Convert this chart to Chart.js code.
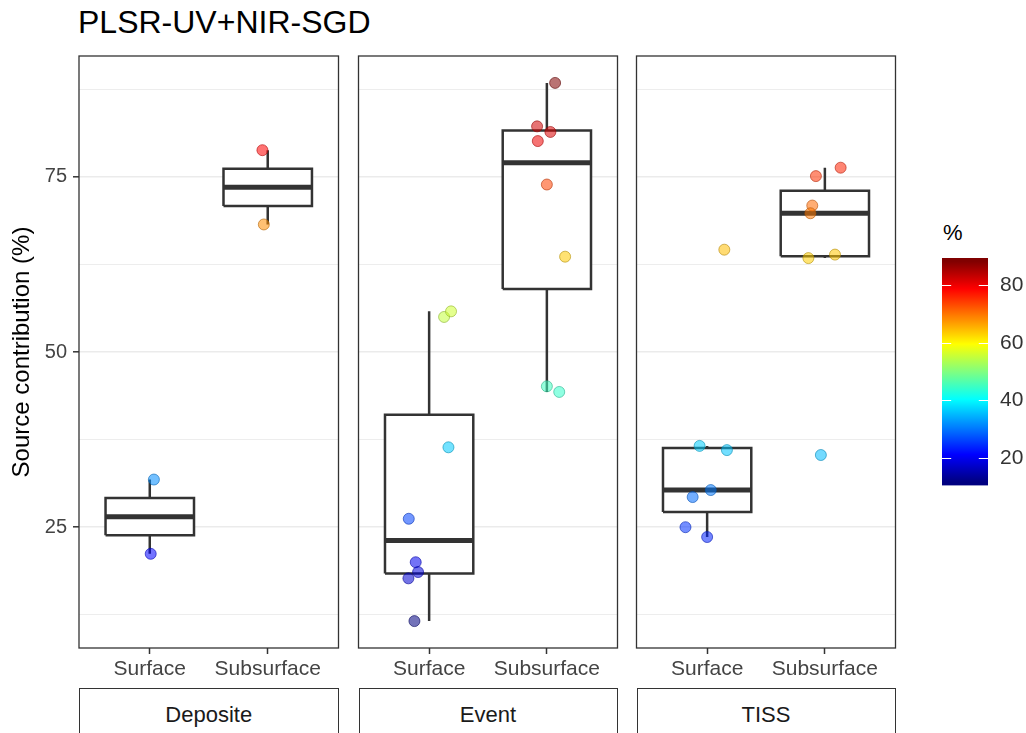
<!DOCTYPE html>
<html>
<head>
<meta charset="utf-8">
<script src="https://cdn.jsdelivr.net/npm/chart.js@4.4.1/dist/chart.umd.min.js"></script>
<style>
  html, body { margin: 0; padding: 0; background: #fff; }
  #fig { position: relative; width: 1026px; height: 733px; overflow: hidden; background: #fff;
         font-family: "Liberation Sans", Arial, Helvetica, sans-serif; }
  #fig canvas { position: absolute; }
  .title { position: absolute; left: 78px; top: 6px; font-size: 32px; line-height: 32px; color: #000; white-space: nowrap; }
  .strip { position: absolute; top: 688px; height: 60px; border: 1.5px solid #333; box-sizing: border-box;
           background: #fff; text-align: center; font-size: 22px; line-height: 24px; padding-top: 14px; color: #1a1a1a; }
  .legtitle { position: absolute; left: 943px; top: 222px; font-size: 22px; line-height: 22px; color: #000; }
</style>
</head>
<body>
<div id="fig">
  <div class="title">PLSR-UV+NIR-SGD</div>
  <div class="legtitle">%</div>
</div>
<script>
const FONT = '"Liberation Sans", Arial, Helvetica, sans-serif';

const facets = ['Deposite', 'Event', 'TISS'];
const sources = ['Surface', 'Subsurface'];

// source contribution (%) of each sample
const depositeSurface = [31.8, 21.2];
const depositeSubsurface = [78.8, 68.2];
const eventSurface = [11.6, 26.2, 20.0, 18.6, 17.7, 36.4, 55.0, 55.8];
const eventSubsurface = [88.4, 82.2, 81.4, 80.1, 73.9, 63.6, 45.1, 44.3];
const tissSurface = [36.6, 36.0, 30.3, 29.3, 25.0, 23.6, 64.6];
const tissSubsurface = [76.3, 75.1, 70.9, 69.8, 63.4, 63.9, 35.3];

// horizontal jitter of each sample (category units)
const depositeSurfaceJitter = [0.035, 0.008];
const depositeSubsurfaceJitter = [-0.045, -0.033];
const eventSurfaceJitter = [-0.125, -0.173, -0.114, -0.094, -0.176, 0.164, 0.127, 0.186];
const eventSubsurfaceJitter = [0.07, -0.083, 0.03, -0.077, 0.0, 0.155, 0.0, 0.105];
const tissSurfaceJitter = [-0.064, 0.168, 0.031, -0.123, -0.184, 0.0, 0.146];
const tissSubsurfaceJitter = [0.134, -0.076, -0.107, -0.123, -0.14, 0.086, -0.034];

const yMajorTicks = [25, 50, 75];
const yMinorTicks = [12.5, 37.5, 62.5, 87.5];
const legendTicks = [20, 40, 60, 80];

const values = [
  [depositeSurface, depositeSubsurface],
  [eventSurface, eventSubsurface],
  [tissSurface, tissSubsurface]
];
const jitters = [
  [depositeSurfaceJitter, depositeSubsurfaceJitter],
  [eventSurfaceJitter, eventSubsurfaceJitter],
  [tissSurfaceJitter, tissSubsurfaceJitter]
];

const allValues = values.flat(2);
const vMin = Math.min(...allValues);
const vMax = Math.max(...allValues);
const yMin = vMin - 0.05 * (vMax - vMin);
const yMax = vMax + 0.05 * (vMax - vMin);

function jet(t) {
  t = Math.min(1, Math.max(0, t));
  const c = k => Math.round(255 * Math.min(1, Math.max(0, 1.5 - Math.abs(4 * t - k))));
  return [c(3), c(2), c(1)];
}
function valueColor(v, a) {
  const [r, g, b] = jet((v - vMin) / (vMax - vMin));
  return `rgba(${r},${g},${b},${a})`;
}
function edgeColor(v) {
  const [r, g, b] = jet((v - vMin) / (vMax - vMin));
  return `rgba(${Math.round(r * 0.7)},${Math.round(g * 0.7)},${Math.round(b * 0.7)},0.6)`;
}

// type 7 quantile, as R does it
function quantile(arr, p) {
  const s = [...arr].sort((a, b) => a - b);
  const h = (s.length - 1) * p;
  const lo = Math.floor(h);
  return s[lo] + (h - lo) * ((s[lo + 1] ?? s[lo]) - s[lo]);
}
function boxStats(arr) {
  const q1 = quantile(arr, 0.25), med = quantile(arr, 0.5), q3 = quantile(arr, 0.75);
  const iqr = q3 - q1;
  const inside = arr.filter(v => v >= q1 - 1.5 * iqr && v <= q3 + 1.5 * iqr);
  return { q1, med, q3, lo: Math.min(...inside), hi: Math.max(...inside) };
}

const INK = '#333333';
const HALF_BOX = 0.375;

function panelDatasets(f) {
  const ds = [];
  sources.forEach((src, j) => {
    const x = j + 1;
    const vals = values[f][j];
    const st = boxStats(vals);
    const line = (data, w, order, extra) => Object.assign({
      type: 'line', data, borderColor: INK, borderWidth: w, pointRadius: 0,
      tension: 0, fill: false, order, borderCapStyle: 'butt', borderJoinStyle: 'miter'
    }, extra || {});
    ds.push(line([{ x, y: st.q3 }, { x, y: st.hi }], 2.5, 4));
    ds.push(line([{ x, y: st.q1 }, { x, y: st.lo }], 2.5, 4));
    ds.push(line([
      { x: x - HALF_BOX, y: st.q1 }, { x: x + HALF_BOX, y: st.q1 },
      { x: x + HALF_BOX, y: st.q3 }, { x: x - HALF_BOX, y: st.q3 },
      { x: x - HALF_BOX, y: st.q1 }
    ], 2.5, 3, { fill: 'shape', backgroundColor: '#ffffff' }));
    ds.push(line([{ x: x - HALF_BOX, y: st.med }, { x: x + HALF_BOX, y: st.med }], 5, 2));
    ds.push({
      type: 'scatter',
      data: vals.map((v, k) => ({ x: x + jitters[f][j][k], y: v })),
      pointRadius: 5.5,
      pointBackgroundColor: vals.map(v => valueColor(v, 0.55)),
      pointBorderColor: vals.map(v => edgeColor(v)),
      pointBorderWidth: 1,
      order: 0
    });
  });
  return ds;
}

const panelBorder = {
  id: 'panelBorder',
  afterDatasetsDraw(chart) {
    const a = chart.chartArea, ctx = chart.ctx;
    ctx.save();
    ctx.strokeStyle = INK;
    ctx.lineWidth = 1.3;
    ctx.strokeRect(a.left, a.top, a.right - a.left, a.bottom - a.top);
    ctx.restore();
  }
};

Chart.defaults.font.family = FONT;
const fig = document.getElementById('fig');

const panels = [
  { left: 0, width: 345, pad: { left: 0, right: 3 } },
  { left: 352, width: 272, pad: { left: 5, right: 5 } },
  { left: 630, width: 272, pad: { left: 5, right: 5 } }
];

panels.forEach((p, f) => {
  const cv = document.createElement('canvas');
  cv.width = p.width; cv.height = 690;
  cv.style.left = p.left + 'px'; cv.style.top = '0px';
  fig.appendChild(cv);
  const first = f === 0;
  const chart = new Chart(cv, {
    type: 'scatter',
    data: { datasets: panelDatasets(f) },
    options: {
      responsive: false, animation: false, devicePixelRatio: 1,
      layout: { padding: { top: 56, bottom: 0, left: p.pad.left, right: p.pad.right } },
      plugins: { legend: { display: false }, tooltip: { enabled: false } },
      scales: {
        x: {
          type: 'linear', min: 0.4, max: 2.6,
          afterBuildTicks: s => { s.ticks = sources.map((_, j) => ({ value: j + 1 })); },
          afterFit: s => { s.height = 42; },
          ticks: {
            callback: (v, i) => sources[i], autoSkip: false, maxRotation: 0,
            font: { size: 21 }, color: '#444', padding: 3
          },
          grid: { drawOnChartArea: false, drawTicks: true, tickLength: 6, tickColor: INK, tickWidth: 1.5 },
          border: { display: false }
        },
        y: {
          type: 'linear', min: yMin, max: yMax,
          afterBuildTicks: s => {
            s.ticks = [...yMinorTicks, ...yMajorTicks].sort((a, b) => a - b).map(v => ({ value: v }));
          },
          afterFit: s => { s.width = first ? 79 : 0; },
          ticks: {
            display: first,
            callback: v => (yMajorTicks.includes(v) ? String(v) : ''),
            font: { size: 20 }, color: '#444', padding: 6
          },
          grid: {
            color: '#ebebeb',
            lineWidth: c => (yMajorTicks.includes(c.tick && c.tick.value) ? 1.6 : 0.9),
            drawTicks: first, tickLength: 6, tickWidth: 1.5,
            tickColor: c => (yMajorTicks.includes(c.tick && c.tick.value) ? INK : 'rgba(0,0,0,0)')
          },
          border: { display: false },
          title: {
            display: first, text: 'Source contribution (%)',
            font: { size: 24 }, color: '#000', padding: { top: 8, bottom: 0 }
          }
        }
      }
    },
    plugins: [panelBorder]
  });

  const a = chart.chartArea;
  const strip = document.createElement('div');
  strip.className = 'strip';
  strip.textContent = facets[f];
  strip.style.left = (p.left + a.left) + 'px';
  strip.style.width = (a.right - a.left) + 'px';
  fig.appendChild(strip);
});

// colour bar legend
const colorBar = {
  id: 'colorBar',
  beforeDatasetsDraw(chart) {
    const a = chart.chartArea, y = chart.scales.y, ctx = chart.ctx;
    const g = ctx.createLinearGradient(0, y.getPixelForValue(vMin), 0, y.getPixelForValue(vMax));
    for (let k = 0; k <= 64; k++) {
      const [r, gg, b] = jet(k / 64);
      g.addColorStop(k / 64, `rgb(${r},${gg},${b})`);
    }
    ctx.save();
    ctx.fillStyle = g;
    ctx.fillRect(a.left, a.top, a.right - a.left, a.bottom - a.top);
    ctx.strokeStyle = '#ffffff';
    ctx.lineWidth = 1;
    const w = (a.right - a.left) / 5;
    legendTicks.forEach(v => {
      const py = Math.round(y.getPixelForValue(v)) + 0.5;
      ctx.beginPath();
      ctx.moveTo(a.left, py); ctx.lineTo(a.left + w, py);
      ctx.moveTo(a.right - w, py); ctx.lineTo(a.right, py);
      ctx.stroke();
    });
    ctx.restore();
  }
};

const lc = document.createElement('canvas');
lc.width = 106; lc.height = 310;
lc.style.left = '920px'; lc.style.top = '200px';
fig.appendChild(lc);
new Chart(lc, {
  type: 'scatter',
  data: { datasets: [] },
  options: {
    responsive: false, animation: false, devicePixelRatio: 1,
    layout: { padding: { top: 58, bottom: 22, left: 22, right: 0 } },
    plugins: { legend: { display: false }, tooltip: { enabled: false } },
    scales: {
      x: { display: false, min: 0, max: 1 },
      y: {
        position: 'right', min: vMin - 1.1, max: vMax + 1.1,
        afterBuildTicks: s => { s.ticks = legendTicks.map(v => ({ value: v })); },
        afterFit: s => { s.width = 38; },
        ticks: { font: { size: 21 }, color: '#333', padding: 12 },
        grid: { display: false, drawTicks: false },
        border: { display: false }
      }
    }
  },
  plugins: [colorBar]
});
</script>
</body>
</html>
